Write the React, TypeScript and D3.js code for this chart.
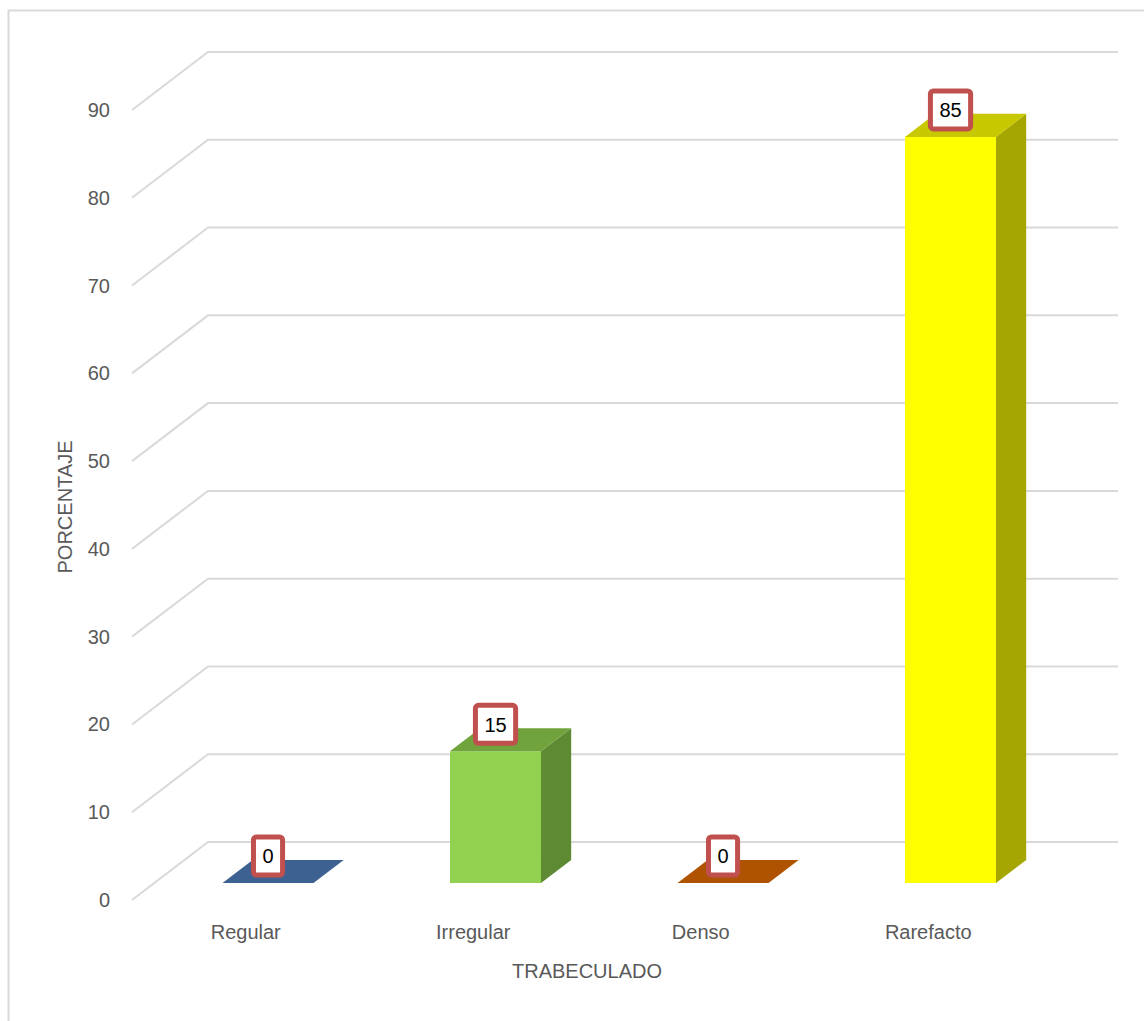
import React from "react";
import * as d3 from "d3";

// Trabeculado distribution (%)
const categories = ["Regular", "Irregular", "Denso", "Rarefacto"];
const values = [0, 15, 0, 85];
const yTicks = [0, 10, 20, 30, 40, 50, 60, 70, 80, 90];
const xTitle = "TRABECULADO";
const yTitle = "PORCENTAJE";

// face colours per bar: front, top, side
const frontColors = ["#4F7AAE", "#92D050", "#D86A10", "#FFFF00"];
const topColors = ["#3D6190", "#71A33D", "#B05300", "#C8C800"];
const sideColors = ["#304E75", "#5E8A33", "#8F4300", "#A6A600"];

const W = 1144;
const H = 1021;
const FONT = "'Liberation Sans', Arial, sans-serif";
const TEXT = "#595959";
const GRID = "#D9D9D9";

// oblique projection of the depth axis
const DEPTH_DX = 76;
const DEPTH_DY = -58;
const Z_FRONT = 0.293;
const Z_BACK = 0.69;

export default function App() {
  const x = d3
    .scaleBand<string>()
    .domain(categories)
    .range([132, 1042])
    .paddingInner(0.6)
    .paddingOuter(0.3);
  const xStep = x.step();
  const xFloor = d3.scaleBand<string>().domain(categories).range([132, 132 + xStep * categories.length]);
  const y = d3.scaleLinear().domain([0, 90]).range([900, 110]);

  const proj = (px: number, v: number, z: number): [number, number] => [
    px + z * DEPTH_DX,
    y(v) + z * DEPTH_DY,
  ];
  const poly = (pts: [number, number][]) => pts.map((p) => p.join(",")).join(" ");

  const gridLine = d3.line<[number, number]>();
  const backRight = 1118;

  return (
    <svg
      width={W}
      height={H}
      style={{ position: "absolute", left: 0, top: 0, background: "#fff" }}
      fontFamily={FONT}
    >
      <rect x={8.5} y={10.5} width={1300} height={1200} fill="#fff" stroke={GRID} strokeWidth={2} />

      {/* gridlines: left wall diagonal + back wall */}
      {yTicks.map((t) => {
        const [fx, fy] = proj(xFloor.range()[0], t, 0);
        const [bx, by] = proj(xFloor.range()[0], t, 1);
        return (
          <path
            key={"g" + t}
            d={gridLine([
              [fx, fy],
              [bx, by],
              [backRight, by],
            ]) as string}
            fill="none"
            stroke={GRID}
            strokeWidth={2}
          />
        );
      })}

      {/* y tick labels */}
      {yTicks.map((t) => (
        <text
          key={"t" + t}
          x={110}
          y={y(t)}
          dy="0.35em"
          textAnchor="end"
          fontSize={20}
          fill={TEXT}
        >
          {t}
        </text>
      ))}

      {/* bars */}
      {categories.map((c, i) => {
        const v = values[i];
        const x0 = x(c) as number;
        const x1 = x0 + x.bandwidth();
        const fbl = proj(x0, 0, Z_FRONT);
        const fbr = proj(x1, 0, Z_FRONT);
        const ftl = proj(x0, v, Z_FRONT);
        const ftr = proj(x1, v, Z_FRONT);
        const bbr = proj(x1, 0, Z_BACK);
        const btl = proj(x0, v, Z_BACK);
        const btr = proj(x1, v, Z_BACK);
        return (
          <g key={"b" + c}>
            {v > 0 && <polygon points={poly([fbr, bbr, btr, ftr])} fill={sideColors[i]} />}
            {v > 0 && <polygon points={poly([fbl, fbr, ftr, ftl])} fill={frontColors[i]} />}
            <polygon points={poly([ftl, ftr, btr, btl])} fill={topColors[i]} />
          </g>
        );
      })}

      {/* value labels */}
      {categories.map((c, i) => {
        const v = values[i];
        const cx = (x(c) as number) + x.bandwidth() / 2;
        const [px, py] = proj(cx, v, Z_FRONT);
        const label = String(v);
        const w = label.length * 11.1 + 23;
        const h = 43;
        const cy = py - 27;
        return (
          <g key={"l" + c}>
            <rect
              x={px - w / 2 + 2.5}
              y={cy - h / 2 + 2.5}
              width={w - 5}
              height={h - 5}
              rx={3}
              fill="#fff"
              stroke="#C0504D"
              strokeWidth={5}
            />
            <text x={px} y={cy} dy="0.36em" textAnchor="middle" fontSize={20} fill="#000">
              {label}
            </text>
          </g>
        );
      })}

      {/* category labels at the floor front edge */}
      {categories.map((c) => (
        <text
          key={"c" + c}
          x={(x(c) as number) + x.bandwidth() / 2}
          y={939}
          textAnchor="middle"
          fontSize={20}
          fill={TEXT}
        >
          {c}
        </text>
      ))}

      {/* axis titles */}
      <text x={587} y={978} textAnchor="middle" fontSize={20} fill={TEXT}>
        {xTitle}
      </text>
      <text
        transform={`translate(72, 507) rotate(-90)`}
        textAnchor="middle"
        fontSize={20}
        fill={TEXT}
      >
        {yTitle}
      </text>
    </svg>
  );
}
